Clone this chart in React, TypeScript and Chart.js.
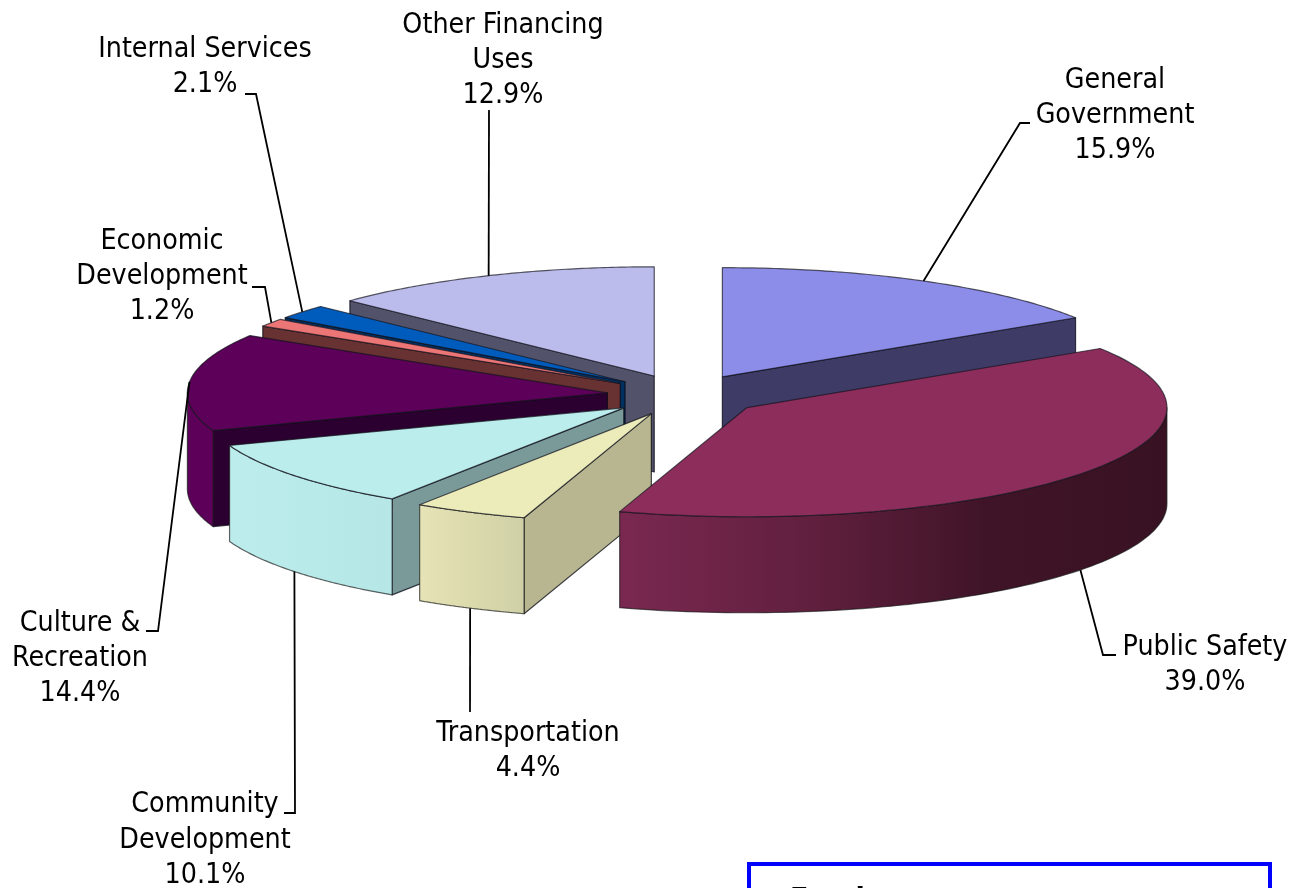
import React, { useEffect, useRef } from "react";
import { Chart, registerables } from "chart.js";

Chart.register(...registerables);

const categories = ["General Government", "Public Safety", "Transportation", "Community Development", "Culture & Recreation", "Economic Development", "Internal Services", "Other Financing Uses"];
const shares = [15.9, 39.0, 4.4, 10.1, 14.4, 1.2, 2.1, 12.9];
const labelLines = [
  ["General", "Government", "15.9%"],
  ["Public Safety", "39.0%"],
  ["Transportation", "4.4%"],
  ["Community", "Development", "10.1%"],
  ["Culture &", "Recreation", "14.4%"],
  ["Economic", "Development", "1.2%"],
  ["Internal Services", "2.1%"],
  ["Other Financing", "Uses", "12.9%"],
];
const topColors = ["#8c8ce9", "#8c2d5c", "#ececbb", "#bbeded", "#5c0059", "#ec7575", "#005cbc", "#bbbbec"];
const radialWallColors = ["#3e3c66", "#3e1428", "#b7b690", "#7a9a9a", "#2b0030", "#683232", "#003060", "#52526a"];
const outerWallStops: string[][] = [
  ["#3e3c66", "#3e3c66"],
  ["#7a2850", "#62203f", "#401428", "#381222"],
  ["#e6e4b6", "#dbdaac", "#d0d0a8"],
  ["#bdecec", "#b9eaea", "#b6e6e6"],
  ["#5c0059", "#5c0059"],
  ["#683232", "#683232"],
  ["#003060", "#003060"],
  ["#52526a", "#52526a"],
];
const drawOrder = [7, 6, 5, 0, 4, 3, 2, 1];

const labelCentres = [1115, 1205, 528, 205, 80, 162, 205, 503];
const labelFirstLine = [80.5, 647.5, 733.5, 805, 623.5, 241.5, 49.5, 25.5];
const leaderBends: number[][][] = [
  [[1020, 123], [1030, 123]],
  [[1103, 655], [1116, 655]],
  [[470, 712]],
  [[295, 813], [284, 813]],
  [[158, 631], [146, 631]],
  [[265, 287], [252, 287]],
  [[256, 94], [245, 94]],
  [[489, 110]],
];

const SQUASH = 0.26;
const EXPLODE = 78;
const EXPLODE_SQUASH = 0.265;
const DEPTH = 96;
const LINE_HEIGHT = 35.2;
const FONT = '28.3px "DejaVu Sans Condensed", "DejaVu Sans", sans-serif';

const pie3d = {
  id: "pie3d",
  beforeDatasetDraw(chart: any) {
    const ctx: CanvasRenderingContext2D = chart.ctx;
    const arcs = chart.getDatasetMeta(0).data;
    const geo = (arc: any) => {
      const mid = (arc.startAngle + arc.endAngle) / 2;
      const cx = arc.x + Math.cos(mid) * EXPLODE;
      const cy = arc.y + Math.sin(mid) * EXPLODE * EXPLODE_SQUASH;
      const R = arc.outerRadius;
      const pt = (t: number, z = 0) => [cx + R * Math.cos(t), cy + R * SQUASH * Math.sin(t) + z];
      return { mid, cx, cy, R, pt };
    };
    ctx.save();
    ctx.lineJoin = "round";
    for (const i of drawOrder) {
      const arc = arcs[i];
      const { cx, cy, pt } = geo(arc);
      const a = arc.startAngle;
      const b = arc.endAngle;
      const wall = (t: number) => {
        const p = pt(t);
        ctx.beginPath();
        ctx.moveTo(cx, cy);
        ctx.lineTo(p[0], p[1]);
        ctx.lineTo(p[0], p[1] + DEPTH);
        ctx.lineTo(cx, cy + DEPTH);
        ctx.closePath();
        ctx.fillStyle = radialWallColors[i];
        ctx.fill();
        ctx.strokeStyle = "rgba(10,10,20,0.75)";
        ctx.lineWidth = 1.2;
        ctx.stroke();
      };
      if (Math.cos(a) < -1e-6) wall(a);
      if (Math.cos(b) > 1e-6) wall(b);
      const from = Math.max(a, 0);
      const to = Math.min(b, Math.PI);
      if (to > from) {
        const x0 = pt(from)[0];
        const x1 = pt(to)[0];
        const grad = ctx.createLinearGradient(Math.min(x0, x1), 0, Math.max(x0, x1), 0);
        const stops = outerWallStops[i];
        stops.forEach((c, k) => grad.addColorStop(k / (stops.length - 1), c));
        ctx.beginPath();
        const N = 80;
        for (let k = 0; k <= N; k++) {
          const p = pt(from + ((to - from) * k) / N);
          if (k === 0) ctx.moveTo(p[0], p[1]);
          else ctx.lineTo(p[0], p[1]);
        }
        for (let k = N; k >= 0; k--) {
          const p = pt(from + ((to - from) * k) / N, DEPTH);
          ctx.lineTo(p[0], p[1]);
        }
        ctx.closePath();
        ctx.fillStyle = grad;
        ctx.fill();
        ctx.strokeStyle = "rgba(20,20,20,0.65)";
        ctx.lineWidth = 1.2;
        ctx.stroke();
      }
      // top face: the library's own arc element, squashed and moved out
      ctx.save();
      ctx.translate(cx, cy);
      ctx.scale(1, SQUASH);
      ctx.translate(-arc.x, -arc.y);
      arc.draw(ctx);
      ctx.restore();
      // outline at an even width
      ctx.beginPath();
      ctx.moveTo(cx, cy);
      const N = 80;
      for (let k = 0; k <= N; k++) {
        const p = pt(a + ((b - a) * k) / N);
        ctx.lineTo(p[0], p[1]);
      }
      ctx.closePath();
      ctx.strokeStyle = "rgba(20,20,30,0.7)";
      ctx.lineWidth = 1.2;
      ctx.stroke();
    }
    ctx.restore();

    // leader lines, from each slice's own mid angle
    ctx.save();
    ctx.strokeStyle = "#000";
    ctx.lineWidth = 1.8;
    arcs.forEach((arc: any, i: number) => {
      const { mid, pt } = geo(arc);
      const front = Math.sin(mid) > 0;
      const s = pt(mid, front ? DEPTH : 0);
      ctx.beginPath();
      ctx.moveTo(s[0], s[1]);
      leaderBends[i].forEach((p) => ctx.lineTo(p[0], p[1]));
      ctx.stroke();
    });
    ctx.restore();

    // labels
    ctx.save();
    ctx.font = FONT;
    ctx.fillStyle = "#000";
    ctx.textAlign = "center";
    ctx.textBaseline = "middle";
    labelLines.forEach((lines, i) => {
      lines.forEach((t, k) => ctx.fillText(t, labelCentres[i], labelFirstLine[i] + k * LINE_HEIGHT));
    });
    ctx.restore();

    // the box cut off by the lower edge
    ctx.save();
    ctx.strokeStyle = "#0000ff";
    ctx.lineWidth = 4;
    ctx.strokeRect(749, 864, 521, 60);
    ctx.font = 'bold 30px "DejaVu Sans Condensed", "DejaVu Sans", sans-serif';
    ctx.fillStyle = "#000";
    ctx.textAlign = "left";
    ctx.textBaseline = "alphabetic";
    ctx.fillText("Fund", 790, 909);
    ctx.restore();
    return false;
  },
};

export default function App() {
  const ref = useRef<HTMLCanvasElement>(null);
  useEffect(() => {
    document.body.style.margin = "0";
    document.body.style.background = "#fff";
    const chart = new Chart(ref.current!, {
      type: "pie",
      data: {
        labels: categories,
        datasets: [{ data: shares, backgroundColor: topColors, borderWidth: 0 }],
      },
      options: {
        responsive: false,
        animation: false,
        radius: 420,
        layout: { padding: { left: 68, bottom: 98, top: 0, right: 0 } },
        plugins: { legend: { display: false }, tooltip: { enabled: false }, title: { display: false } },
      },
      plugins: [pie3d],
    } as any);
    return () => chart.destroy();
  }, []);
  return <canvas ref={ref} width={1302} height={888} style={{ display: "block", width: 1302, height: 888 }} />;
}
